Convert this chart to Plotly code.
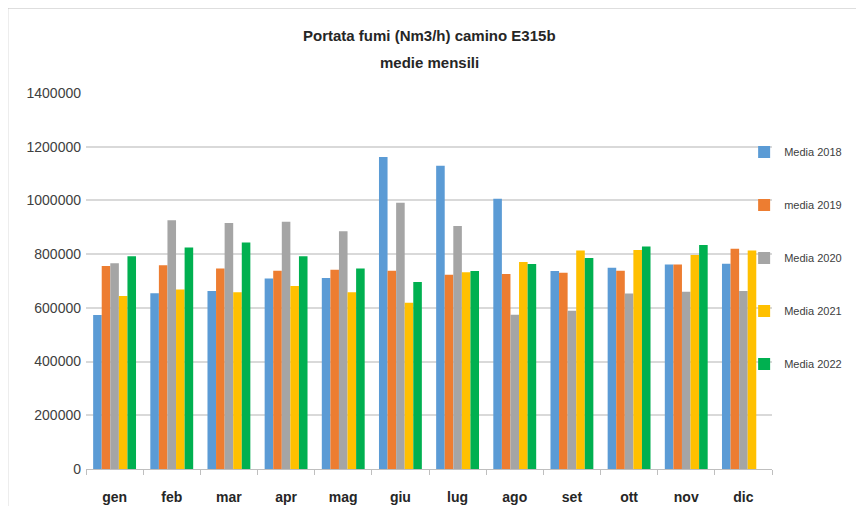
import plotly.graph_objects as go

# month labels
mesi = ['gen', 'feb', 'mar', 'apr', 'mag', 'giu', 'lug', 'ago', 'set', 'ott', 'nov', 'dic']

# monthly averages (Nm3/h)
media_2018 = [573000, 654000, 663000, 709000, 711000, 1162000, 1129000, 1006000, 737000, 749000, 761000, 764000]
media_2019 = [756000, 759000, 747000, 738000, 742000, 738000, 723000, 726000, 731000, 738000, 761000, 820000]
media_2020 = [766000, 926000, 916000, 921000, 885000, 991000, 905000, 574000, 589000, 653000, 660000, 663000]
media_2021 = [644000, 668000, 658000, 681000, 658000, 619000, 733000, 771000, 814000, 815000, 797000, 814000]
media_2022 = [792000, 825000, 843000, 792000, 747000, 696000, 737000, 763000, 786000, 828000, 834000, None]

series = [
    ('Media 2018', media_2018, '#5B9BD5'),
    ('media 2019', media_2019, '#ED7D31'),
    ('Media 2020', media_2020, '#A5A5A5'),
    ('Media 2021', media_2021, '#FFC000'),
    ('Media 2022', media_2022, '#00B050'),
]

FONT = 'Liberation Sans Narrow, Arial Narrow, Liberation Sans, sans-serif'

fig = go.Figure()
for name, vals, col in series:
    fig.add_trace(go.Bar(
        x=mesi, y=vals, name=name, legendgroup=name,
        marker=dict(color=col, line=dict(width=0)),
    ))

# the page body adds 8px around the figure, margins account for it
fig.update_layout(
    width=864, height=506,
    margin=dict(l=78, r=100, t=85, b=45, autoexpand=False),
    paper_bgcolor='white', plot_bgcolor='white',
    font=dict(family=FONT, size=13, color='#404040'),
    barmode='group', bargap=0.25, bargroupgap=0,
    legend=dict(
        x=0.852, xref='container', xanchor='left',
        y=0.744, yref='container', yanchor='top',
        traceorder='grouped', tracegroupgap=34,
        font=dict(family=FONT, size=11, color='#404040'),
        itemwidth=30, bgcolor='rgba(0,0,0,0)',
    ),
    xaxis=dict(
        showgrid=False, showline=True, linecolor='#BFBFBF', linewidth=1,
        ticks='outside', tickson='boundaries', ticklen=5, tickcolor='#BFBFBF',
        tickfont=dict(family=FONT, size=14, color='#262626', weight='bold'),
        ticklabelstandoff=15, automargin=False,
    ),
    yaxis=dict(
        range=[0, 1400000], dtick=200000, tickformat='d',
        showgrid=True, gridcolor='#D9D9D9', gridwidth=1.5,
        showline=False, zeroline=False, ticks='',
        tickfont=dict(family=FONT, size=14, color='#404040'),
        ticklabelstandoff=4, automargin=False,
    ),
    annotations=[
        dict(text='<b>Portata fumi (Nm3/h) camino E315b</b>', xref='paper', yref='paper',
             x=0.5, y=1.154, xanchor='center', yanchor='middle', showarrow=False,
             font=dict(family=FONT, size=15, color='#262626')),
        dict(text='<b>medie mensili</b>', xref='paper', yref='paper',
             x=0.5, y=1.08, xanchor='center', yanchor='middle', showarrow=False,
             font=dict(family=FONT, size=15, color='#262626')),
    ],
    shapes=[
        dict(type='line', xref='paper', yref='paper', x0=-0.114, x1=1.2, y0=1.226, y1=1.226,
             line=dict(color='#BFBFBF', width=1)),
        dict(type='line', xref='paper', yref='paper', x0=-0.114, x1=-0.114, y0=1.226, y1=-0.2,
             line=dict(color='#BFBFBF', width=1)),
    ],
)

fig.write_html("out.html")
